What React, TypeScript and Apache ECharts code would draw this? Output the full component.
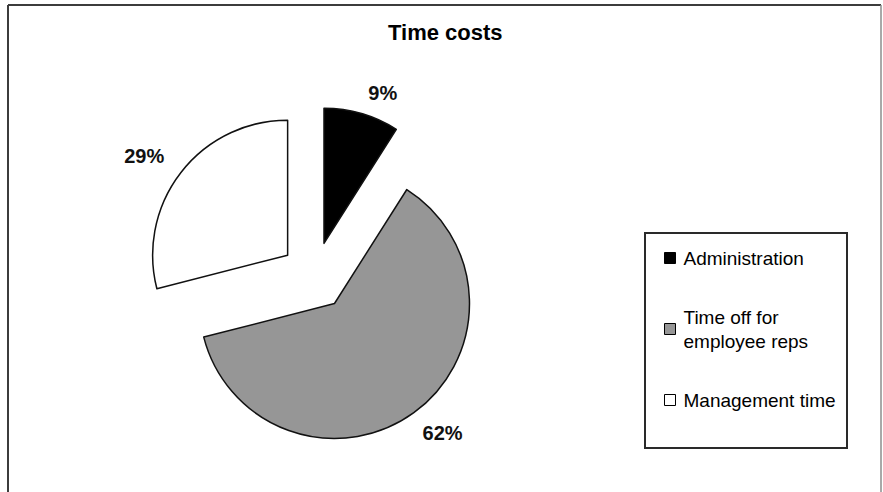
import React, { useEffect, useRef } from "react";
import * as echarts from "echarts";

const categories = ["Administration", "Time off for\nemployee reps", "Management time"];
const values = [9, 62, 29];
const sliceColors = ["#000000", "#969696", "#ffffff"];
const labelLen = [21.6, 24.8, 26.2];
const labelLen2 = [0.6, -5.9, -4];

export default function App() {
  const ref = useRef<HTMLDivElement>(null);
  useEffect(() => {
    if (!ref.current) return;
    const chart = echarts.init(ref.current, null, { renderer: "svg" });
    const font = "'Liberation Sans', Arial, sans-serif";
    chart.setOption({
      animation: false,
      backgroundColor: "#ffffff",
      title: {
        text: "Time costs",
        left: 388,
        top: 21,
        padding: 0,
        textStyle: { fontFamily: font, fontSize: 22, fontWeight: "bold", color: "#000", lineHeight: 22 },
      },
      legend: {
        orient: "vertical",
        left: 664,
        top: 246,
        padding: 0,
        itemGap: 23,
        itemWidth: 11,
        itemHeight: 11,
        icon: "rect",
        selectedMode: false,
        itemStyle: { borderColor: "#000", borderWidth: 1 },
        textStyle: { fontFamily: font, fontSize: 19, color: "#000", lineHeight: 24, padding: [0, 0, 0, 3] },
        data: categories.map((c, i) => ({
          name: c,
          textStyle: i === 1 ? { padding: [24, 0, 0, 3] } : { padding: [0, 0, 0, 3] },
        })),
      },
      graphic: [
        { type: "line", shape: { x1: 8, y1: 5, x2: 881, y2: 5 }, style: { stroke: "#3c3c3c", lineWidth: 2 }, silent: true },
        { type: "line", shape: { x1: 8, y1: 5, x2: 8, y2: 492 }, style: { stroke: "#3c3c3c", lineWidth: 2 }, silent: true },
        { type: "line", shape: { x1: 881, y1: 5, x2: 881, y2: 492 }, style: { stroke: "#8c8c8c", lineWidth: 1.5 }, silent: true },
        { type: "rect", shape: { x: 645, y: 233, width: 202, height: 215 }, style: { fill: "none", stroke: "#2a2a2a", lineWidth: 2 }, silent: true },
      ],
      series: [
        {
          type: "pie",
          center: [314.5, 276],
          radius: 135,
          startAngle: 90,
          clockwise: true,
          selectedMode: "multiple",
          selectedOffset: 34,
          avoidLabelOverlap: false,
          emphasis: { disabled: true },
          itemStyle: { borderColor: "#111", borderWidth: 1.5 },
          label: {
            show: true,
            position: "outside",
            formatter: "{c}%",
            fontFamily: font,
            fontSize: 20,
            fontWeight: "bold",
            color: "#111",
            distanceToLabelLine: 0,
          },
          labelLine: { show: false },
          data: categories.map((c, i) => ({
            name: c,
            value: values[i],
            selected: true,
            itemStyle: { color: sliceColors[i] },
            labelLine: { show: false, length: labelLen[i], length2: labelLen2[i] },
          })),
        },
      ],
    });
    return () => chart.dispose();
  }, []);
  return <div ref={ref} style={{ position: "fixed", left: 0, top: 0, width: 883, height: 492 }} />;
}
